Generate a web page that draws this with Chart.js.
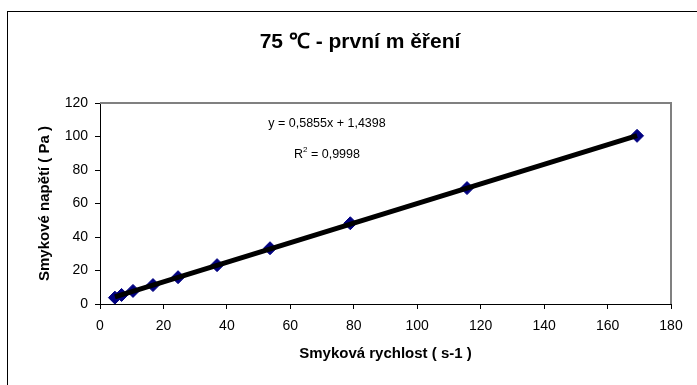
<!DOCTYPE html>
<html>
<head>
<meta charset="utf-8">
<script src="https://cdn.jsdelivr.net/npm/chart.js@4.4.1/dist/chart.umd.min.js"></script>
<style>
  html, body { margin: 0; padding: 0; background: #fff; }
  #wrap { width: 697px; height: 385px; position: relative; }
</style>
</head>
<body>
<div id="wrap"><canvas id="viscosity" width="697" height="385"></canvas></div>
<script>
// shear rate (s-1) vs shear stress (Pa), 75 °C, first run
const shearRate = [4.7, 6.8, 10.4, 16.7, 24.6, 36.9, 53.6, 78.9, 115.7, 169.3];
const shearStress = [3.8, 5.4, 7.8, 11.3, 16.0, 23.2, 33.3, 48.2, 69.2, 100.4];

// linear trendline from the spreadsheet
const slope = 0.5855;
const intercept = 1.4398;
const rSquared = '0,9998';

const xTicks = [0, 20, 40, 60, 80, 100, 120, 140, 160, 180];
const yTicks = [0, 20, 40, 60, 80, 100, 120];

const chartTitle = '75 ℃ - první m ěření';
const xTitle = 'Smyková rychlost ( s-1 )';
const yTitle = 'Smykové napětí ( Pa )';

const FONT = "'Liberation Sans', Arial, sans-serif";

const xMin = Math.min(...shearRate);
const xMax = Math.max(...shearRate);
const trend = [
  { x: xMin, y: slope * xMin + intercept },
  { x: xMax, y: slope * xMax + intercept }
];
const points = shearRate.map((x, i) => ({ x: x, y: shearStress[i] }));

// frame, plot border, titles and equation label
const decorations = {
  id: 'decorations',
  beforeDatasetsDraw(chart) {
    const { ctx, chartArea: a } = chart;
    ctx.save();
    ctx.strokeStyle = '#808080';
    ctx.lineWidth = 2;
    ctx.beginPath();
    ctx.moveTo(a.left, a.top);
    ctx.lineTo(a.right, a.top);
    ctx.lineTo(a.right, a.bottom);
    ctx.stroke();
    ctx.restore();
  },
  afterDraw(chart) {
    const { ctx, chartArea: a } = chart;
    ctx.save();
    ctx.strokeStyle = '#000';
    ctx.lineWidth = 1;
    ctx.strokeRect(7.5, 11.5, 720, 420);

    ctx.fillStyle = '#000';
    ctx.textAlign = 'center';
    ctx.textBaseline = 'middle';

    ctx.font = 'bold 21px ' + FONT;
    ctx.fillText(chartTitle, 360, 42);

    ctx.font = 'bold 15px ' + FONT;
    ctx.fillText(xTitle, (a.left + a.right) / 2, 354);

    ctx.save();
    ctx.translate(45, (a.top + a.bottom) / 2);
    ctx.rotate(-Math.PI / 2);
    ctx.fillText(yTitle, 0, 0);
    ctx.restore();

    // trendline equation
    const eqFont = '12.5px ' + FONT;
    const supFont = '8px ' + FONT;
    ctx.font = eqFont;
    const eq = 'y = ' + slope.toString().replace('.', ',') + 'x + ' + intercept.toString().replace('.', ',');
    ctx.fillText(eq, 327, 124);

    const r1 = 'R';
    const r2 = ' = ' + rSquared;
    const w1 = ctx.measureText(r1).width;
    const w2 = ctx.measureText(r2).width;
    ctx.font = supFont;
    const wSup = ctx.measureText('2').width;
    let x = 327 - (w1 + wSup + w2) / 2;
    ctx.textAlign = 'left';
    ctx.font = eqFont;
    ctx.fillText(r1, x, 155);
    x += w1;
    ctx.font = supFont;
    ctx.fillText('2', x, 150);
    x += wSup;
    ctx.font = eqFont;
    ctx.fillText(r2, x, 155);
    ctx.restore();
  }
};

new Chart(document.getElementById('viscosity').getContext('2d'), {
  type: 'scatter',
  data: {
    datasets: [
      {
        type: 'line',
        label: 'Lineární (trend)',
        data: trend,
        borderColor: '#000',
        borderWidth: 5,
        pointRadius: 0,
        fill: false,
        order: 0
      },
      {
        label: 'Naměřené hodnoty',
        data: points,
        pointStyle: 'rectRot',
        pointRadius: 6.5,
        backgroundColor: '#000080',
        borderColor: '#000080',
        borderWidth: 1,
        order: 1
      }
    ]
  },
  options: {
    responsive: false,
    animation: false,
    events: [],
    layout: { padding: { left: 0, right: 26, top: 103, bottom: 0 } },
    plugins: {
      legend: { display: false },
      tooltip: { enabled: false },
      title: { display: false }
    },
    scales: {
      x: {
        type: 'linear',
        min: 0,
        max: 180,
        afterBuildTicks: scale => { scale.ticks = xTicks.map(v => ({ value: v })); },
        afterFit: scale => { scale.height = 81; },
        border: { color: '#000', width: 1 },
        grid: { drawOnChartArea: false, drawTicks: true, tickLength: 5, color: '#000' },
        ticks: { color: '#000', font: { family: FONT, size: 14 }, padding: 9, maxRotation: 0 }
      },
      y: {
        type: 'linear',
        min: 0,
        max: 120,
        afterBuildTicks: scale => { scale.ticks = yTicks.map(v => ({ value: v })); },
        afterFit: scale => { scale.width = 100; },
        border: { color: '#000', width: 1 },
        grid: { drawOnChartArea: false, drawTicks: true, tickLength: 5, color: '#000' },
        ticks: { color: '#000', font: { family: FONT, size: 14 }, padding: 7 }
      }
    }
  },
  plugins: [decorations]
});
</script>
</body>
</html>
